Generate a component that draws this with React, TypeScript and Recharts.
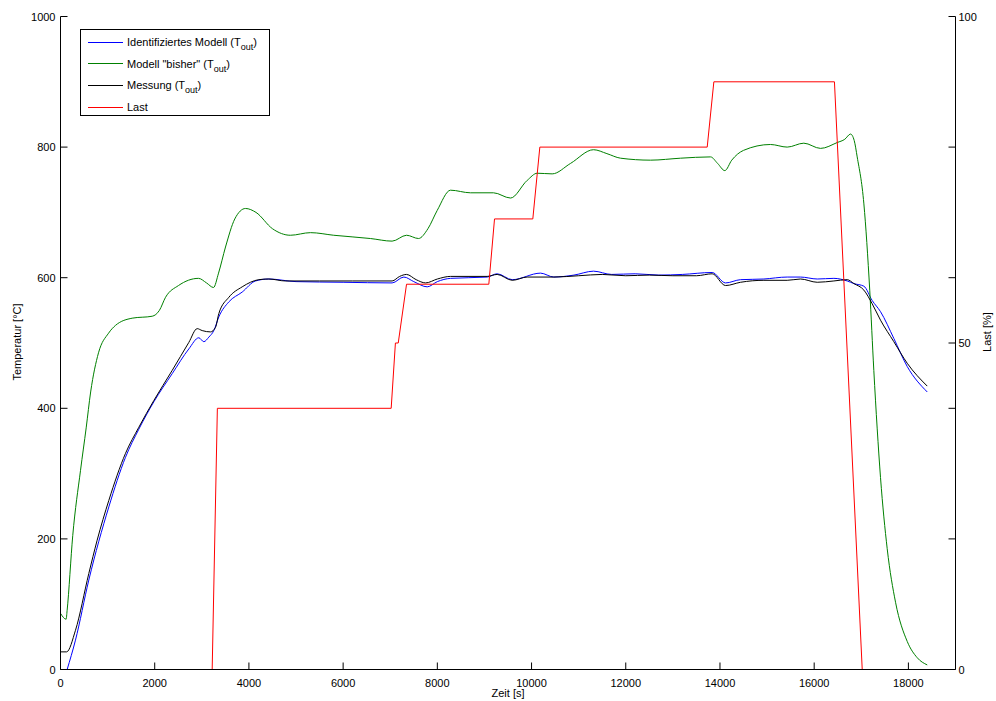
import { LineChart, Line, XAxis, YAxis, Legend } from 'recharts';

// Zeit [s] / Temperatur [°C] / Last [%]
const identTime = [141, 318, 601, 1026, 1380, 1663, 1982, 2371, 2725, 2936, 3043, 3149, 3255, 3361, 3574, 3857, 4140, 4423, 5000, 6000, 7040, 7289, 7500, 7785, 8000, 8280, 9058, 9270, 9590, 10190, 10473, 10900, 11316, 11700, 12200, 12700, 13200, 13834, 14118, 14437, 14932, 15427, 15710, 16065, 16418, 16701, 16843, 17055, 17232, 17408, 17691, 17975, 18400];
const identTemp = [0, 45, 137, 249, 325, 368, 410, 453, 491, 508, 502, 509, 519, 540, 563, 578, 595, 598, 594, 593, 592, 601, 594, 586, 594, 599, 601, 606, 597, 607, 601, 604, 610, 605, 606, 604, 605, 608, 592, 597, 598, 601, 601, 598, 599, 595, 591, 587, 565, 548, 507, 464, 425];

const bisherTime = [0, 120, 140, 260, 425, 545, 640, 807, 1020, 1168, 1522, 1947, 2100, 2230, 2505, 2930, 3100, 3248, 3355, 3503, 3700, 3928, 4150, 4500, 4880, 5307, 5800, 6580, 7040, 7346, 7600, 7800, 7997, 8280, 8704, 9192, 9554, 9907, 10120, 10438, 10827, 11316, 11600, 11890, 12525, 13162, 13800, 13950, 14103, 14250, 14500, 15073, 15427, 15780, 16135, 16489, 16650, 16772, 16850, 16913, 17055, 17180, 17266, 17408, 17550, 17727, 17975, 18188, 18400];
const bisherTemp = [86, 77, 90, 205, 305, 370, 425, 485, 515, 527, 538, 541, 550, 570, 588, 599, 592, 585, 607, 647, 690, 706, 700, 675, 665, 669, 665, 660, 656, 665, 660, 675, 703, 734, 730, 730, 722, 749, 760, 759, 775, 796, 790, 783, 780, 783, 785, 775, 764, 780, 795, 804, 800, 806, 798, 807, 812, 820, 810, 785, 713, 580, 458, 294, 185, 103, 43, 18, 7];

const messungTime = [0, 130, 318, 601, 778, 1026, 1380, 1663, 1982, 2371, 2725, 2902, 3008, 3185, 3291, 3361, 3574, 3857, 4211, 4423, 4777, 5500, 6200, 7040, 7200, 7346, 7550, 7750, 8000, 8280, 9058, 9270, 9590, 9907, 10473, 11000, 11500, 12000, 12500, 13000, 13500, 13834, 14118, 14437, 14932, 15427, 15710, 16065, 16418, 16701, 16843, 17055, 17232, 17408, 17691, 17975, 18400];
const messungTemp = [27, 27, 60, 147, 198, 259, 331, 371, 412, 458, 501, 522, 519, 517, 524, 545, 570, 586, 597, 598, 595, 595, 595, 595, 602, 605, 597, 592, 598, 602, 602, 605, 596, 601, 601, 603, 605, 603, 604, 603, 603, 606, 588, 593, 596, 596, 598, 593, 595, 597, 591, 581, 560, 535, 502, 469, 434];

const lastTime = [0, 3220, 3330, 7020, 7110, 7170, 7346, 9093, 9214, 10027, 10176, 13729, 13870, 16430, 17020, 18400];
const lastValue = [0, 0, 40, 40, 50, 50, 59, 59, 69, 69, 80, 80, 90, 90, 0, 0];

const timeTicks = [0, 2000, 4000, 6000, 8000, 10000, 12000, 14000, 16000, 18000];
const tempTicks = [0, 200, 400, 600, 800, 1000];
const lastTicks = [0, 20, 40, 50, 60, 80, 100];
const lastLabels = [0, 50, 100];

const legendItems = [
  { label: 'Identifiziertes Modell (T', sub: 'out', color: '#0000ff' },
  { label: 'Modell "bisher" (T', sub: 'out', color: '#008000' },
  { label: 'Messung (T', sub: 'out', color: '#000000' },
  { label: 'Last', sub: '', color: '#ff0000' },
];

const zip = (ts: number[], vs: number[]) => ts.map((t, i) => ({ t, v: vs[i] }));

const identData = zip(identTime, identTemp);
const bisherData = zip(bisherTime, bisherTemp);
const messungData = zip(messungTime, messungTemp);
const lastData = zip(lastTime, lastValue);

const FONT = '"Liberation Sans", Arial, sans-serif';

const BottomTick = (props: any) => {
  const { x, y, payload } = props;
  return (
    <g>
      <line x1={x} y1={y} x2={x} y2={y - 7} stroke="#000" />
      <text x={x} y={y + 17} textAnchor="middle" fontSize={11} fontFamily={FONT} fill="#000">
        {payload.value}
      </text>
    </g>
  );
};

const TopTick = (props: any) => {
  const { x, y } = props;
  return <line x1={x} y1={y} x2={x} y2={y + 7} stroke="#000" />;
};

const LeftTick = (props: any) => {
  const { x, y, payload } = props;
  return (
    <g>
      <line x1={x} y1={y} x2={x + 7} y2={y} stroke="#000" />
      <text x={x - 5} y={y + 4} textAnchor="end" fontSize={11} fontFamily={FONT} fill="#000">
        {payload.value}
      </text>
    </g>
  );
};

const RightTick = (props: any) => {
  const { x, y, payload } = props;
  return (
    <g>
      <line x1={x} y1={y} x2={x - 7} y2={y} stroke="#000" />
      {lastLabels.includes(payload.value) && (
        <text x={x + 3} y={y + 4} textAnchor="start" fontSize={11} fontFamily={FONT} fill="#000">
          {payload.value}
        </text>
      )}
    </g>
  );
};

const LegendBox = () => (
  <div
    style={{
      position: 'relative',
      width: 190,
      height: 87,
      border: '1px solid #000',
      background: '#fff',
      boxSizing: 'border-box',
      fontFamily: FONT,
      fontSize: 11,
      color: '#000',
    }}
  >
    {legendItems.map((it, i) => (
      <div
        key={it.label}
        style={{
          position: 'absolute',
          left: 7,
          top: 5 + i * 21.7,
          height: 14,
          display: 'flex',
          alignItems: 'center',
          whiteSpace: 'nowrap',
        }}
      >
        <span style={{ display: 'inline-block', width: 35, borderTop: `1px solid ${it.color}`, marginRight: 4 }} />
        <span style={{ lineHeight: '14px' }}>
          {it.label}
          {it.sub && (
            <>
              <span style={{ fontSize: 9, verticalAlign: -4, lineHeight: 0 }}>{it.sub}</span>)
            </>
          )}
        </span>
      </div>
    ))}
  </div>
);

export default function App() {
  return (
    <div style={{ position: 'absolute', left: 0, top: 0, background: '#fff' }}>
      <LineChart width={996} height={701} margin={{ top: 16.5, right: 0, bottom: 0, left: 0 }}>
        <XAxis
          xAxisId="bottom"
          dataKey="t"
          type="number"
          domain={[0, 19000]}
          ticks={timeTicks}
          interval={0}
          height={31.5}
          tickSize={0}
          tickMargin={0}
          tick={<BottomTick />}
          axisLine={{ stroke: '#000' }}
          tickLine={false}
          label={() => (
            <text x={508} y={697} textAnchor="middle" fontSize={11} fontFamily={FONT} fill="#000">
              Zeit [s]
            </text>
          )}
        />
        <XAxis
          xAxisId="top"
          orientation="top"
          dataKey="t"
          type="number"
          domain={[0, 19000]}
          ticks={timeTicks}
          interval={0}
          height={0}
          tickSize={0}
          tickMargin={0}
          tick={<TopTick />}
          axisLine={{ stroke: '#000' }}
          tickLine={false}
        />
        <YAxis
          yAxisId="left"
          domain={[0, 1000]}
          ticks={tempTicks}
          interval={0}
          width={60.5}
          tickSize={0}
          tickMargin={0}
          tick={<LeftTick />}
          axisLine={{ stroke: '#000' }}
          tickLine={false}
          label={() => (
            <text
              x={17}
              y={342}
              transform="rotate(-90 17 342)"
              textAnchor="middle"
              dominantBaseline="central"
              fontSize={11}
              fontFamily={FONT}
              fill="#000"
            >
              Temperatur [°C]
            </text>
          )}
        />
        <YAxis
          yAxisId="right"
          orientation="right"
          domain={[0, 100]}
          ticks={lastTicks}
          interval={0}
          width={40.5}
          tickSize={0}
          tickMargin={0}
          tick={<RightTick />}
          axisLine={{ stroke: '#000' }}
          tickLine={false}
          label={() => (
            <text
              x={987}
              y={332}
              transform="rotate(-90 987 332)"
              textAnchor="middle"
              dominantBaseline="central"
              fontSize={11}
              fontFamily={FONT}
              fill="#000"
            >
              Last [%]
            </text>
          )}
        />
        <Legend
          layout="vertical"
          align="center"
          verticalAlign="middle"
          content={<LegendBox />}
          wrapperStyle={{ top: 29, left: 80, width: 190, height: 87 }}
        />
        <Line
          xAxisId="bottom"
          yAxisId="left"
          data={identData}
          dataKey="v"
          name="Identifiziertes Modell"
          type="monotone"
          stroke="#0000ff"
          strokeWidth={1}
          dot={false}
          isAnimationActive={false}
        />
        <Line
          xAxisId="bottom"
          yAxisId="left"
          data={bisherData}
          dataKey="v"
          name="Modell bisher"
          type="monotone"
          stroke="#008000"
          strokeWidth={1}
          dot={false}
          isAnimationActive={false}
        />
        <Line
          xAxisId="bottom"
          yAxisId="left"
          data={messungData}
          dataKey="v"
          name="Messung"
          type="monotone"
          stroke="#000000"
          strokeWidth={1}
          dot={false}
          isAnimationActive={false}
        />
        <Line
          xAxisId="bottom"
          yAxisId="right"
          data={lastData}
          dataKey="v"
          name="Last"
          type="linear"
          stroke="#ff0000"
          strokeWidth={1}
          dot={false}
          isAnimationActive={false}
        />
      </LineChart>
    </div>
  );
}
